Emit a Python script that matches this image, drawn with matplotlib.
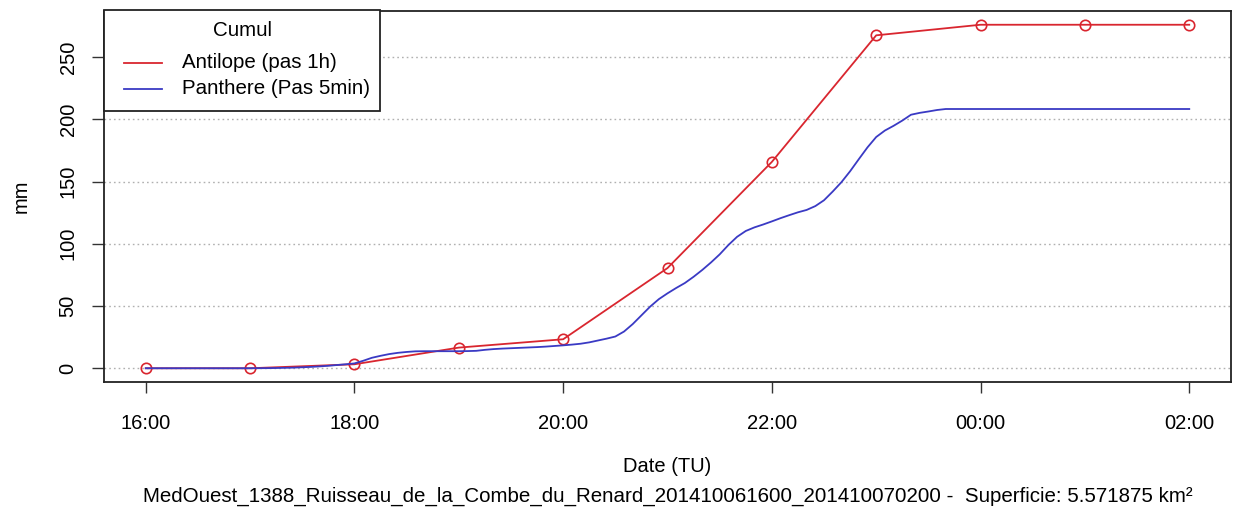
import matplotlib
matplotlib.use("Agg")
import matplotlib.pyplot as plt
from matplotlib.patches import Rectangle
from matplotlib.lines import Line2D

plt.rcParams['font.family'] = ['Liberation Sans', 'DejaVu Sans']

# Hours after 16:00
red_hours = [0, 1, 2, 3, 4, 5, 6, 7, 8, 9, 10]
red_values = [0, 0, 3.2, 16.6, 23.3, 80.5, 165.8, 267.5, 276, 276, 276]

# 5-minute cumulative values, 16:00 -> 02:00 (121 points)
blue_values = [
    0, 0, 0, 0, 0, 0, 0, 0, 0, 0, 0, 0,                       # 16:00-16:55
    0, 0.05, 0.1, 0.2, 0.35, 0.5, 0.8, 1.1, 1.5, 2.0, 2.6, 3.2,  # 17:00-17:55
    3.9, 6.0, 8.4, 10.0, 11.4, 12.4, 13.1, 13.6, 13.7, 13.7, 13.7, 13.7,  # 18:00
    13.7, 13.8, 14.0, 14.8, 15.4, 15.8, 16.1, 16.4, 16.7, 17.0, 17.4, 17.9,  # 19:00
    18.4, 19.0, 19.7, 20.8, 22.3, 23.8, 25.5, 29.5, 35.5, 42.5, 49.5, 55.5,  # 20:00
    60.2, 64.5, 68.5, 73.5, 79.0, 85.0, 91.5, 99.0, 105.6, 110.3, 113.2, 115.5,  # 21:00
    118.0, 120.6, 123.0, 125.3, 127.2, 130.3, 135.0, 142.0, 149.5, 158.3, 168.0, 177.5,  # 22:00
    185.8, 191.0, 194.8, 199.0, 203.7, 205.2, 206.3, 207.5, 208.3, 208.3, 208.3, 208.3,  # 23:00
    208.3, 208.3, 208.3, 208.3, 208.3, 208.3, 208.3, 208.3, 208.3, 208.3, 208.3, 208.3,  # 00:00
    208.3, 208.3, 208.3, 208.3, 208.3, 208.3, 208.3, 208.3, 208.3, 208.3, 208.3, 208.3,  # 01:00
    208.3,  # 02:00
]
blue_hours = [k / 12 for k in range(len(blue_values))]

xtick_pos = [0, 2, 4, 6, 8, 10]
xtick_labels = ["16:00", "18:00", "20:00", "22:00", "00:00", "02:00"]
ytick_pos = [0, 50, 100, 150, 200, 250]
series_labels = ["Antilope (pas 1h)", "Panthere (Pas 5min)"]

red_color = "#d9262f"
blue_color = "#3a3ac4"

W, H = 1233, 508
fig = plt.figure(figsize=(W / 100, H / 100), dpi=100)
ax = fig.add_axes([104 / W, 1 - 382 / H, (1231 - 104) / W, (382 - 11) / H])

ax.set_xlim(-0.4, 10.4)
ax.set_ylim(-11.04, 287.04)

for yv in ytick_pos:
    ax.axhline(yv, color="#b0b0b0", linestyle=(0, (1.2, 2.2)), linewidth=1.0, zorder=1)

ax.plot(red_hours, red_values, color=red_color, linewidth=1.3, marker="o",
        markersize=7.5, markerfacecolor="none", markeredgecolor=red_color,
        markeredgewidth=1.2, zorder=3)
ax.plot(blue_hours, blue_values, color=blue_color, linewidth=1.3, zorder=3)

ax.set_xticks(xtick_pos)
ax.set_xticklabels(xtick_labels)
ax.set_yticks(ytick_pos)
ax.set_yticklabels([str(v) for v in ytick_pos], rotation=90, va="center")
ax.tick_params(axis="x", length=8, width=1.0, pad=15, labelsize=14.5, color="#333333")
ax.tick_params(axis="y", length=8.5, width=1.0, pad=10.5, labelsize=14.5, color="#333333")
for s in ax.spines.values():
    s.set_linewidth(1.3)
    s.set_color("#222222")

fig.text(21 / W, 1 - 196 / H, "mm", rotation=90, ha="center", va="center", fontsize=14.5)
fig.text(667 / W, 1 - 467 / H, "Date (TU)", ha="center", va="center", fontsize=14.5)
fig.text(668 / W, 1 - 496 / H,
         "MedOuest_1388_Ruisseau_de_la_Combe_du_Renard_201410061600_201410070200 -  Superficie: 5.571875 km²",
         ha="center", va="center", fontsize=14.8)

# Legend drawn in figure pixel coordinates (top-left origin converted)
def fx(px):
    return px / W

def fy(py):
    return 1 - py / H

fig.add_artist(Rectangle((fx(104), fy(111)), fx(380) - fx(104), fy(10) - fy(111),
                         transform=fig.transFigure, facecolor="white",
                         edgecolor="#222222", linewidth=1.3, zorder=5))
fig.text(fx(242), fy(30), "Cumul", ha="center", va="center", fontsize=14.8, zorder=6)
for yy, col, lab in [(63, red_color, series_labels[0]), (89, blue_color, series_labels[1])]:
    fig.add_artist(Line2D([fx(124), fx(162)], [fy(yy), fy(yy)], transform=fig.transFigure,
                          color=col, linewidth=1.3, zorder=6))
    fig.text(fx(182), fy(yy), lab, ha="left", va="center", fontsize=14.8, zorder=6)

fig.savefig("out.png", dpi=100)
